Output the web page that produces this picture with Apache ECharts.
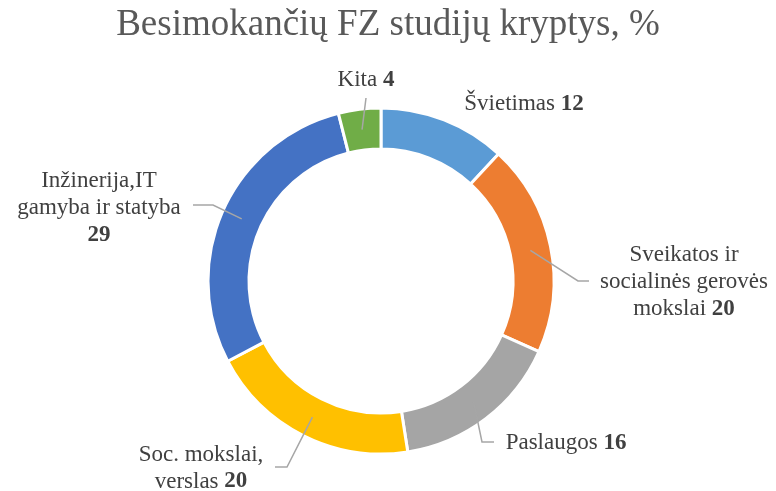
<!DOCTYPE html>
<html>
<head>
<meta charset="utf-8">
<script src="https://cdn.jsdelivr.net/npm/echarts@6/dist/echarts.min.js"></script>
<style>
  html, body { margin: 0; padding: 0; background: #fff; }
  #chart { width: 776px; height: 491px; }
</style>
</head>
<body>
<div id="chart"></div>
<script>
// chart data
const categories = [
  'Švietimas',
  'Sveikatos ir\nsocialinės gerovės\nmokslai',
  'Paslaugos',
  'Soc. mokslai,\nverslas',
  'Inžinerija,IT\ngamyba ir statyba',
  'Kita'
]
const values = [12, 20, 16, 20, 29, 4]
const colors = ['#5B9BD5', '#ED7D31', '#A5A5A5', '#FFC000', '#4472C4', '#70AD47']
// value goes after a space, or on its own line
const valueSep = [' ', ' ', ' ', ' ', '\n', ' ']

// layout of the labels: text centre, line elbow, line end
const cx = 381
const cy = 281
const rIn = 132
const rOut = 173
const labelSpots = [
  { at: [524, 104], line: null },
  { at: [684, 282], line: [[578, 281], [589, 281]] },
  { at: [566, 443], line: [[482, 442], [494, 442]] },
  { at: [201, 468], line: [[287, 467], [275, 467]] },
  { at: [99, 208], line: [[213, 205], [193, 205]] },
  { at: [366, 80], line: [[366, 98]] }
]

const chart = echarts.init(document.getElementById('chart'))

const ringData = categories.map(function(name, i) {
  return { name: name, value: values[i], itemStyle: { color: colors[i] } }
})

// same slices again, invisible, only to carry labels and lines above the ring
const labelData = categories.map(function(name, i) {
  return {
    name: name,
    value: values[i],
    labelLine: { show: labelSpots[i].line !== null }
  }
})

const option = {
  backgroundColor: '#fff',
  animation: false,
  title: {
    text: 'Besimokančių FZ studijų kryptys, %',
    left: 'center',
    top: 2,
    textStyle: {
      fontFamily: 'Liberation Serif',
      fontSize: 37,
      fontWeight: 'normal',
      color: '#595959'
    }
  },
  series: [
    {
      type: 'pie',
      z: 2,
      center: [cx, cy],
      radius: [rIn, rOut],
      startAngle: 90,
      clockwise: true,
      silent: true,
      itemStyle: {
        borderColor: '#fff',
        borderWidth: 3
      },
      label: { show: false },
      labelLine: { show: false },
      data: ringData
    },
    {
      type: 'pie',
      z: 5,
      center: [cx, cy],
      radius: [rIn, rOut],
      startAngle: 90,
      clockwise: true,
      silent: true,
      avoidLabelOverlap: false,
      itemStyle: { color: 'rgba(0,0,0,0)', borderWidth: 0 },
      label: {
        show: true,
        position: 'outside',
        formatter: function(p) {
          const lines = p.name.split('\n').map(function(s) { return '{n|' + s + '}' })
          return lines.join('\n') + (valueSep[p.dataIndex] === '\n' ? '\n' : '{n| }') + '{v|' + p.value + '}'
        },
        rich: {
          n: {
            fontFamily: 'Liberation Serif',
            fontSize: 23,
            color: '#404040',
            lineHeight: 27
          },
          v: {
            fontFamily: 'Liberation Serif',
            fontSize: 23,
            fontWeight: 'bold',
            color: '#404040',
            lineHeight: 27
          }
        }
      },
      labelLine: {
        show: true,
        lineStyle: { color: '#A6A6A6', width: 1.5 }
      },
      labelLayout: function(params) {
        const spot = labelSpots[params.dataIndex]
        const out = {
          x: spot.at[0],
          y: spot.at[1],
          align: 'center',
          verticalAlign: 'middle'
        }
        if (spot.line && params.labelLinePoints) {
          const p0 = params.labelLinePoints[0]
          const dx = (p0[0] - cx) / rOut
          const dy = (p0[1] - cy) / rOut
          const rMid = (rIn + rOut) / 2
          out.labelLinePoints = [[cx + rMid * dx, cy + rMid * dy]].concat(spot.line)
        }
        return out
      },
      data: labelData
    }
  ]
}

chart.setOption(option)
</script>
</body>
</html>
